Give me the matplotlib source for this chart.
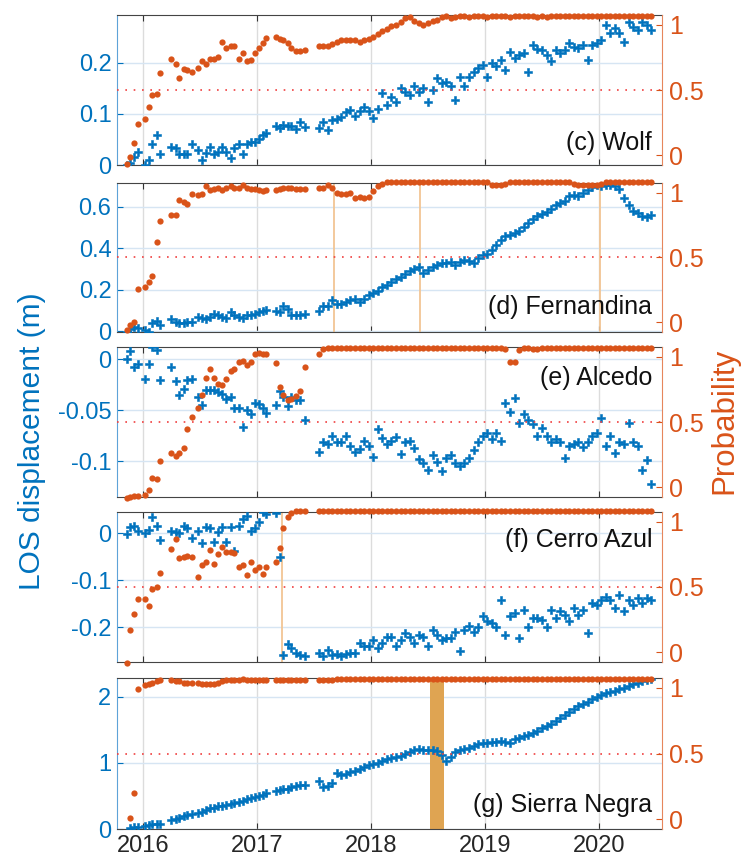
import numpy as np
import matplotlib.pyplot as plt

plt.rcParams['font.family'] = ['Liberation Sans', 'DejaVu Sans']
plt.rcParams['axes.unicode_minus'] = False

blue = '#0072BD'
orange = '#D95319'
nan = np.nan

# acquisition epochs (decimal year)
t = [2015.86, 2015.89, 2015.92, 2015.96, 2016.02, 2016.05, 2016.08, 2016.12, 2016.15,
     2016.25, 2016.29, 2016.32, 2016.36, 2016.39, 2016.43, 2016.48, 2016.52, 2016.55, 2016.59,
     2016.62, 2016.66, 2016.69, 2016.73, 2016.77, 2016.80, 2016.84, 2016.88, 2016.91, 2016.95,
     2016.98, 2017.02, 2017.05, 2017.08,
     2017.17, 2017.20, 2017.23, 2017.27, 2017.30, 2017.34, 2017.38, 2017.42,
     2017.54, 2017.58, 2017.62, 2017.66, 2017.70, 2017.74, 2017.78, 2017.82, 2017.86, 2017.90,
     2017.94, 2017.98, 2018.02, 2018.06, 2018.10, 2018.14, 2018.18, 2018.22, 2018.26, 2018.30,
     2018.34, 2018.38, 2018.42, 2018.46, 2018.50, 2018.54, 2018.58, 2018.62, 2018.66, 2018.70,
     2018.74, 2018.78, 2018.82, 2018.86, 2018.90, 2018.94, 2018.98, 2019.02, 2019.06, 2019.10,
     2019.14, 2019.18, 2019.22, 2019.26, 2019.30, 2019.34, 2019.38, 2019.42, 2019.46, 2019.50,
     2019.54, 2019.58, 2019.62, 2019.66, 2019.70, 2019.74, 2019.78, 2019.82, 2019.86, 2019.90,
     2019.94, 2019.98, 2020.02, 2020.06, 2020.10, 2020.14, 2020.18, 2020.22, 2020.26, 2020.30,
     2020.34, 2020.38, 2020.42, 2020.46]

# (c) Wolf
wolf_los = [0.000, 0.003, 0.015, 0.026, 0.000, 0.010, 0.041, 0.059, 0.022,
            0.036, 0.033, 0.022, 0.022, 0.022, 0.041, 0.029, 0.010, 0.023, 0.036,
            0.022, 0.025, 0.036, 0.026, 0.013, 0.033, 0.042, 0.022, 0.042, 0.046,
            0.046, 0.050, 0.059, 0.062,
            0.076, 0.072, 0.078, 0.076, 0.076, 0.070, 0.085, 0.075,
            0.072, 0.085, 0.069, 0.088, 0.090, 0.095, 0.103, 0.108, 0.097, 0.105,
            0.113, 0.105, 0.093, 0.110, 0.141, 0.118, 0.134, 0.124, 0.150, 0.144,
            0.137, 0.154, 0.144, 0.150, 0.124, 0.147, 0.170, 0.160, 0.163, 0.154,
            0.127, 0.173, 0.154, 0.173, 0.183, 0.190, 0.196, 0.173, 0.199, 0.195,
            0.206, 0.186, 0.222, 0.210, 0.216, 0.219, 0.183, 0.235, 0.228, 0.225,
            0.216, 0.203, 0.225, 0.220, 0.225, 0.239, 0.232, 0.230, 0.235, 0.206,
            0.235, 0.240, 0.245, 0.275, 0.258, 0.268, 0.258, 0.242, 0.281, 0.271,
            0.265, 0.281, 0.275, 0.265]
wolf_prob = [-0.07, -0.01, 0.09, 0.24, 0.28, 0.37, 0.46, 0.47, 0.63,
             0.74, 0.70, 0.59, 0.66, 0.65, 0.64, 0.67, 0.72, 0.70, 0.74,
             0.74, 0.75, 0.87, 0.82, 0.84, 0.84, 0.74, 0.78, 0.72, 0.73,
             0.78, 0.82, 0.86, 0.90,
             0.91, 0.89, 0.88, 0.86, 0.82, 0.80, 0.80, 0.81,
             0.84, 0.84, 0.84, 0.85, 0.87, 0.88, 0.88, 0.88, 0.88, 0.87,
             0.88, 0.89, 0.91, 0.93, 0.95, 0.97, 0.99, 1.00, 1.02, 1.05,
             1.06, 1.03, 1.01, 1.00, 1.01, 1.03, 1.04, 1.06, 1.07, 1.05,
             1.06, 1.07, 1.07, 1.06, 1.07, 1.07, 1.07, 1.06, 1.07, 1.07,
             1.07, 1.07, 1.06, 1.07, 1.07, 1.07, 1.07, 1.07, 1.06, 1.07,
             1.06, 1.07, 1.07, 1.07, 1.07, 1.07, 1.07, 1.07, 1.07, 1.07,
             1.07, 1.07, 1.07, 1.07, 1.07, 1.07, 1.07, 1.07, 1.07, 1.07,
             1.07, 1.07, 1.07, 1.07]

# (d) Fernandina
fern_los = [-0.005, 0.010, 0.020, 0.015, 0.005, -0.005, 0.040, 0.050, 0.030,
            0.060, 0.045, 0.040, 0.040, 0.045, 0.045, 0.070, 0.065, 0.060, 0.070,
            0.085, 0.080, 0.070, 0.065, 0.095, 0.080, 0.070, 0.065, 0.080, 0.080,
            0.085, 0.095, 0.100, 0.105,
            0.100, 0.095, 0.120, 0.110, 0.080, 0.080, 0.080, 0.085,
            0.100, 0.120, 0.120, 0.150, 0.130, 0.130, 0.140, 0.150, 0.155, 0.140,
            0.155, 0.175, 0.185, 0.195, 0.215, 0.225, 0.240, 0.250, 0.260, 0.275,
            0.290, 0.300, 0.310, 0.280, 0.295, 0.310, 0.320, 0.330, 0.330, 0.335,
            0.320, 0.335, 0.345, 0.340, 0.330, 0.355, 0.370, 0.375, 0.390, 0.415,
            0.440, 0.460, 0.465, 0.475, 0.485, 0.505, 0.520, 0.540, 0.555, 0.565,
            0.575, 0.590, 0.610, 0.620, 0.630, 0.650, 0.655, 0.650, 0.665, 0.680,
            0.695, 0.705, 0.700, 0.705, 0.705, 0.700, 0.685, 0.645, 0.610, 0.580,
            0.570, 0.555, 0.550, 0.560]
fern_prob = [-0.06, -0.02, 0.00, 0.26, 0.27, 0.31, 0.36, 0.62, 0.78,
             0.83, 0.83, 0.94, 0.93, 0.91, 0.99, 0.98, 0.99, 1.05, 1.02,
             1.03, 1.04, 1.02, 1.04, 1.05, 1.04, 1.04, 1.06, 1.04, 1.03,
             1.03, 1.02, 1.01, 1.02,
             1.02, 1.03, 1.04, 1.04, 1.04, 1.03, 1.03, 1.03,
             1.04, 1.04, 1.06, 1.04, 1.00, 0.99, 0.99, 1.00, 0.96, 0.97,
             0.96, 0.97, 1.01, 1.05, 1.07, 1.08, 1.08, 1.08, 1.08, 1.08,
             1.08, 1.08, 1.08, 1.08, 1.08, 1.08, 1.08, 1.08, 1.08, 1.08,
             1.08, 1.08, 1.08, 1.08, 1.08, 1.08, 1.08, 1.08, 1.06, 1.06,
             1.06, 1.07, 1.08, 1.08, 1.08, 1.08, 1.08, 1.08, 1.08, 1.08,
             1.08, 1.08, 1.08, 1.08, 1.08, 1.08, 1.07, 1.06, 1.06, 1.06,
             1.06, 1.06, 1.07, 1.08, 1.08, 1.08, 1.08, 1.08, 1.08, 1.08,
             1.08, 1.08, 1.08, 1.08]

# (e) Alcedo
alc_los = [0.000, 0.008, -0.0075, -0.005, -0.019, -0.005, 0.012, 0.009, -0.020,
           -0.008, -0.021, -0.035, -0.029, -0.020, -0.019, -0.037, -0.045, -0.030, -0.030,
           -0.030, -0.032, -0.034, -0.039, -0.037, -0.048, -0.048, -0.066, -0.050, -0.054,
           -0.043, -0.044, -0.048, -0.053,
           -0.045, -0.031, -0.037, -0.046, -0.037, -0.040, -0.040, -0.060,
           -0.091, -0.081, -0.083, -0.075, -0.081, -0.081, -0.075, -0.085, -0.091, -0.088,
           -0.080, -0.085, -0.096, -0.068, -0.077, -0.083, -0.080, -0.076, -0.093, -0.081,
           -0.080, -0.087, -0.098, -0.102, -0.109, -0.094, -0.101, -0.110, -0.097, -0.094,
           -0.102, -0.105, -0.102, -0.097, -0.089, -0.081, -0.075, -0.072, -0.078, -0.072,
           -0.080, -0.043, -0.052, -0.038, -0.062, -0.054, -0.060, -0.063, -0.075, -0.067,
           -0.075, -0.081, -0.078, -0.081, -0.097, -0.085, -0.083, -0.081, -0.086, -0.081,
           -0.075, -0.072, -0.058, -0.085, -0.075, -0.092, -0.081, -0.083, -0.062, -0.081,
           -0.085, -0.109, -0.099, -0.122]
alc_prob = [-0.08, -0.075, -0.07, -0.07, -0.06, -0.02, 0.07, 0.06, 0.20,
            0.26, 0.24, 0.26, 0.30, 0.45, 0.54, 0.61, 0.71, 0.84, 0.91,
            0.84, 0.79, 0.78, 0.83, 0.89, 0.91, 0.96, 0.97, 0.94, 0.96,
            1.02, 1.03, 1.02, 1.02,
            0.95, 0.77, 0.71, 0.67, 0.68, 0.70, 0.74, 0.92,
            1.02, 1.06, 1.07, 1.07, 1.07, 1.07, 1.07, 1.07, 1.07, 1.07,
            1.07, 1.07, 1.07, 1.07, 1.07, 1.07, 1.07, 1.07, 1.07, 1.07,
            1.07, 1.07, 1.07, 1.07, 1.07, 1.07, 1.07, 1.07, 1.07, 1.07,
            1.07, 1.07, 1.07, 1.07, 1.07, 1.07, 1.07, 1.07, 1.07, 1.07,
            1.07, 1.06, 0.96, 0.96, 1.05, 1.07, 1.07, 1.06, 1.06, 1.07,
            1.07, 1.07, 1.07, 1.07, 1.07, 1.07, 1.07, 1.07, 1.07, 1.07,
            1.07, 1.07, 1.07, 1.07, 1.07, 1.07, 1.07, 1.07, 1.07, 1.07,
            1.07, 1.07, 1.07, 1.07]

# (f) Cerro Azul
cerro_los = [-0.001, 0.014, 0.016, 0.005, 0.000, 0.006, 0.034, 0.016, -0.014,
             0.005, 0.002, 0.000, 0.016, 0.011, -0.010, 0.005, -0.021, 0.014, 0.011,
             -0.018, 0.002, 0.014, -0.018, 0.014, -0.039, 0.016, 0.030, 0.036, 0.005,
             0.011, 0.023, 0.044, 0.041,
             0.042, -0.051, -0.259, -0.236, -0.245, -0.255, -0.259, -0.262,
             -0.254, -0.262, -0.249, -0.259, -0.256, -0.261, -0.258, -0.255, -0.254, -0.234,
             -0.241, -0.241, -0.227, -0.245, -0.234, -0.220, -0.220, -0.240, -0.227, -0.213,
             -0.220, -0.234, -0.216, -0.220, -0.240, -0.206, -0.216, -0.227, -0.223, -0.223,
             -0.210, -0.250, -0.206, -0.197, -0.210, -0.200, -0.177, -0.187, -0.190, -0.200,
             -0.142, -0.216, -0.177, -0.170, -0.223, -0.163, -0.200, -0.180, -0.180, -0.185,
             -0.200, -0.163, -0.180, -0.166, -0.175, -0.187, -0.160, -0.173, -0.163, -0.213,
             -0.149, -0.153, -0.142, -0.135, -0.142, -0.160, -0.131, -0.166, -0.142, -0.153,
             -0.138, -0.149, -0.138, -0.142]
cerro_prob = [-0.08, 0.17, 0.29, 0.41, 0.41, 0.355, 0.485, 0.50, 0.61,
              0.79, 0.87, 0.72, 0.73, 0.74, 0.73, 0.58, 0.67, 0.69, 0.78,
              0.68, 0.75, 0.81, 0.77, 0.77, 0.76, 0.65, 0.67, 0.59, 0.69,
              0.63, 0.65, 0.60, 0.65,
              0.69, 0.80, 0.95, 1.04, 1.07, 1.08, 1.08, 1.08,
              1.08, 1.08, 1.08, 1.08, 1.08, 1.08, 1.08, 1.08, 1.08, 1.08,
              1.08, 1.08, 1.08, 1.08, 1.08, 1.08, 1.08, 1.08, 1.08, 1.08,
              1.08, 1.08, 1.08, 1.08, 1.08, 1.08, 1.08, 1.08, 1.08, 1.08,
              1.08, 1.08, 1.08, 1.08, 1.08, 1.08, 1.08, 1.08, 1.08, 1.08,
              1.08, 1.08, 1.08, 1.08, 1.08, 1.08, 1.08, 1.08, 1.08, 1.08,
              1.08, 1.08, 1.08, 1.08, 1.08, 1.08, 1.08, 1.08, 1.08, 1.08,
              1.08, 1.08, 1.08, 1.08, 1.08, 1.08, 1.08, 1.08, 1.08, 1.08,
              1.08, 1.08, 1.08, 1.08]

# (g) Sierra Negra
sierra_los = [nan, 0.02, 0.03, 0.03, 0.04, 0.06, 0.08, 0.08, 0.08,
              0.13, 0.15, 0.17, 0.20, 0.21, 0.22, 0.24, 0.26, 0.28, 0.31,
              0.32, 0.34, 0.35, 0.36, 0.37, 0.39, 0.41, 0.43, 0.45, 0.47,
              0.48, 0.50, 0.52, 0.54,
              0.58, 0.59, 0.60, 0.61, 0.63, 0.65, 0.67, 0.66,
              0.72, 0.63, 0.65, 0.70, 0.84, 0.82, 0.83, 0.86, 0.88, 0.91,
              0.93, 0.96, 0.98, 1.00, 1.03, 1.05, 1.07, 1.08, 1.10, 1.13,
              1.17, 1.20, 1.21, 1.20, 1.20, 1.19, 1.18, 1.11, 1.02, 1.09,
              1.16, 1.19, 1.21, 1.23, 1.26, 1.28, 1.30, 1.30, 1.31, 1.32,
              1.33, 1.32, 1.30, 1.36, 1.38, 1.40, 1.42, 1.45, 1.48, 1.52,
              1.56, 1.59, 1.63, 1.68, 1.72, 1.77, 1.81, 1.85, 1.88, 1.92,
              1.96, 1.99, 2.02, 2.05, 2.07, 2.09, 2.11, 2.13, 2.16, 2.19,
              2.21, 2.23, 2.25, 2.27]
sierra_prob = [nan, 0.01, 0.20, 0.99, 1.02, 1.03, 1.04, 1.05, 1.06,
               1.06, 1.05, 1.05, 1.04, 1.04, 1.04, 1.04, 1.03, 1.03, 1.03,
               1.03, 1.04, 1.05, 1.06, 1.06, 1.06, 1.06, 1.07, 1.06, 1.06,
               1.06, 1.06, 1.06, 1.06,
               1.06, 1.06, 1.06, 1.06, 1.06, 1.06, 1.06, 1.06,
               1.06, 1.06, 1.06, 1.06, 1.07, 1.07, 1.07, 1.07, 1.07, 1.07,
               1.07, 1.07, 1.07, 1.07, 1.07, 1.07, 1.07, 1.07, 1.07, 1.07,
               1.07, 1.07, 1.07, 1.07, 1.07, 1.07, 1.07, 1.07, 1.07, 1.07,
               1.07, 1.07, 1.07, 1.07, 1.07, 1.07, 1.07, 1.07, 1.07, 1.07,
               1.07, 1.07, 1.07, 1.07, 1.07, 1.07, 1.07, 1.07, 1.07, 1.07,
               1.07, 1.07, 1.07, 1.07, 1.07, 1.07, 1.07, 1.07, 1.07, 1.07,
               1.07, 1.07, 1.07, 1.07, 1.07, 1.07, 1.07, 1.07, 1.07, 1.07,
               1.07, 1.07, 1.07, 1.07]

names = ['(c) Wolf', '(d) Fernandina', '(e) Alcedo', '(f) Cerro Azul', '(g) Sierra Negra']
los = [wolf_los, fern_los, alc_los, cerro_los, sierra_los]
prob = [wolf_prob, fern_prob, alc_prob, cerro_prob, sierra_prob]
left_lim = [(0, 0.294), (-0.003, 0.715), (-0.135, 0.012), (-0.274, 0.045), (0, 2.28)]
left_ticks = [[0, 0.1, 0.2], [0, 0.2, 0.4, 0.6], [-0.1, -0.05, 0], [-0.2, -0.1, 0], [0, 1, 2]]
left_labels = [['0', '0.1', '0.2'], ['0', '0.2', '0.4', '0.6'], ['-0.1', '-0.05', '0'],
               ['-0.2', '-0.1', '0'], ['0', '1', '2']]
event_lines = [[], [2017.68, 2018.43, 2020.01], [], [2017.22], []]
event_band = (2018.52, 2018.64)
years = [2016, 2017, 2018, 2019, 2020]

# panel boxes in pixels (top, bottom) and label height in axes fraction
boxes = [(15, 165), (183, 332), (347, 497), (512, 662), (678, 829)]
label_y = [0.147, 0.168, 0.793, 0.813, 0.159]

W, H = 745, 855
fig = plt.figure(figsize=(W / 100, H / 100), dpi=100)
tt = np.array(t)

for i in range(5):
    top, bot = boxes[i]
    ax = fig.add_axes([117 / W, 1 - bot / H, 545 / W, (bot - top) / H])
    ax.set_xlim(2015.772, 2020.553)
    ax.set_ylim(*left_lim[i])
    ax.set_yticks(left_ticks[i])
    ax.set_yticklabels(left_labels[i])
    ax.set_xticks(years)
    if i == 4:
        ax.set_xticklabels([str(y) for y in years])
    else:
        ax.set_xticklabels([])
    ax.yaxis.grid(True, color='#d6e5f3', lw=1)
    ax.xaxis.grid(True, color='#dcdcdc', lw=1)
    ax.set_axisbelow(True)
    ax.tick_params(axis='y', direction='in', length=4, color=blue, labelcolor=blue,
                   labelsize=17, pad=4)
    ax.tick_params(axis='x', direction='in', length=4, top=True, color='#333333',
                   labelcolor='#262626', labelsize=17, pad=4)
    for s in ['top', 'bottom']:
        ax.spines[s].set_color('#444444')
    ax.spines['left'].set_color('#5ea3d8')
    ax.spines['right'].set_visible(False)

    for x in event_lines[i]:
        ax.axvline(x, color='#f2c594', lw=1.3, zorder=1)
    if i == 4:
        ax.axvspan(*event_band, color='#dfa452', lw=0, zorder=1)

    ax.plot(tt, los[i], 'P', color=blue, ms=5.2, mew=0.4, zorder=3)

    ax2 = ax.twinx()
    ax2.set_ylim(-0.075, 1.075)
    ax2.set_yticks([0, 0.5, 1])
    ax2.set_yticklabels(['0', '0.5', '1'])
    ax2.tick_params(axis='y', direction='in', length=4, color=orange, labelcolor=orange,
                    labelsize=18, pad=5)
    for s in ['top', 'bottom', 'left']:
        ax2.spines[s].set_visible(False)
    ax2.spines['right'].set_color('#e6865c')
    ax2.axhline(0.5, color='#f04040', lw=1.2, ls=(0, (1, 4)), zorder=1)
    ax2.plot(tt, prob[i], 'o', color=orange, ms=4.5, mew=0, clip_on=False, zorder=3)
    ax2.text(0.982, label_y[i], names[i], transform=ax2.transAxes, ha='right',
             va='center', fontsize=18, color='#111111')

fig.text(32 / W, 1 - 441 / H, 'LOS displacement (m)', rotation=90, ha='center',
         va='center', fontsize=21.5, color=blue)
fig.text(724 / W, 1 - 421 / H, 'Probability', rotation=90, ha='center',
         va='center', fontsize=22.5, color=orange)

fig.savefig('out.png', dpi=100)
plt.close()
